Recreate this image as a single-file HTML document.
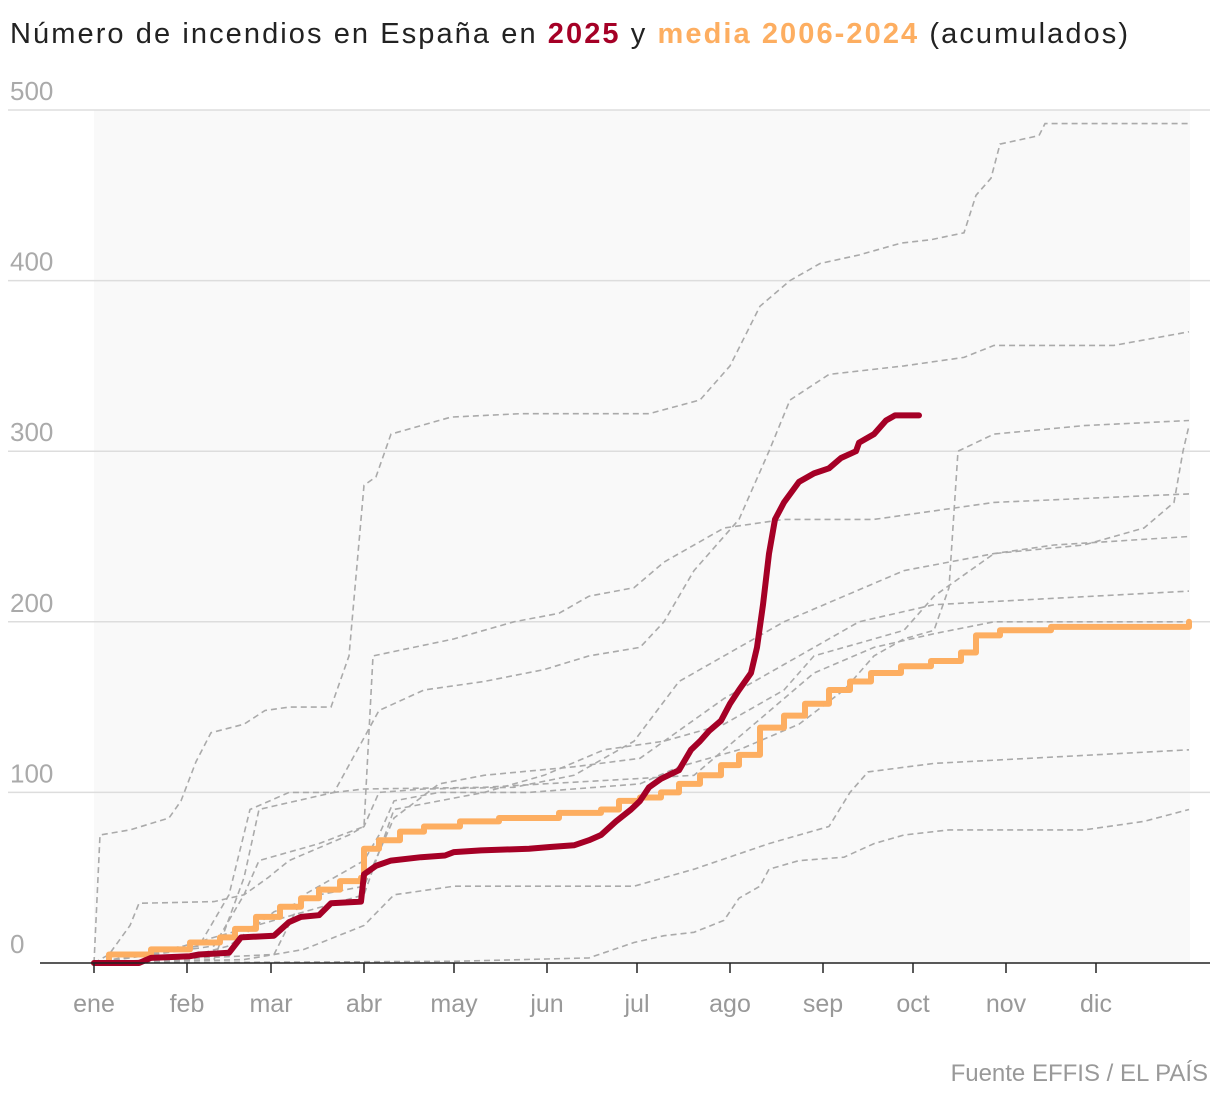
<!DOCTYPE html>
<html><head><meta charset="utf-8"><style>
body{margin:0;background:#fff;width:1220px;height:1102px;overflow:hidden;font-family:"Liberation Sans",sans-serif}
</style></head><body>
<svg id="chart" width="1220" height="1102" xmlns="http://www.w3.org/2000/svg">
<text x="10" y="43" font-size="29" fill="#222" textLength="1118" lengthAdjust="spacing">Número de incendios en España en <tspan font-weight="bold" fill="#a50026">2025</tspan> y <tspan font-weight="bold" fill="#fdae61">media 2006-2024</tspan> (acumulados)</text>
<rect x="94" y="110" width="1096" height="853" fill="#f9f9f9"/>
<g id="grid"></g><g id="gray"></g><g id="main"></g><g id="axis"></g>
<text x="1208" y="1081" font-size="24" fill="#999" text-anchor="end">Fuente EFFIS / EL PAÍS</text>
</svg>
<script>
const yTicks=[0,100,200,300,400,500];
const months=["ene","feb","mar","abr","may","jun","jul","ago","sep","oct","nov","dic"];
const monthStarts=[0,31,59,90,120,151,181,212,243,273,304,334];
const days2025=[0,15,19,32,35,45,49,60,65,69,75,79,89,90,94,99,109,117,120,129,145,152,160,165,169,174,179,182,185,189,195,199,202,205,209,212,215,219,221,223,225,227,230,235,240,245,249,254,255,260,264,267,275];
const vals2025=[0,0,3,4,5,6,15,16,24,27,28,35,36,52,57,60,62,63,65,66,67,68,69,72,75,83,90,95,103,108,113,125,130,136,142,152,160,170,185,210,240,260,270,282,287,290,296,300,305,310,318,321,321];
const daysAvg=[0,5,19,32,42,47,54,62,69,75,82,89,90,95,102,110,122,135,155,169,175,182,189,195,202,209,215,222,230,237,245,252,259,269,279,289,294,302,319,365];
const valsAvg=[0,5,8,12,15,20,27,33,38,43,48,50,67,72,77,80,83,85,88,90,95,97,100,105,110,116,122,138,145,152,160,165,170,174,177,182,192,195,197,200];
const pastYears=[
 [[0,2,12,25,29,34,39,50,57,65,79,85,90,94,99,119,142,185,202,212,222,232,242,255,269,279,290,294,299,302,315,317,365],[0,75,78,85,95,118,135,140,148,150,150,180,280,285,310,320,322,322,330,350,385,400,410,415,422,424,428,450,460,480,485,492,492]],
 [[0,40,50,55,60,80,95,110,130,150,165,182,190,200,215,225,232,245,270,290,300,340,365],[0,2,50,90,92,100,148,160,165,172,180,185,200,230,260,300,330,345,350,355,362,362,370]],
 [[0,60,70,80,90,95,100,115,145,182,195,215,235,250,260,270,280,285,288,300,330,365],[0,5,40,50,60,75,95,100,100,105,115,125,140,160,180,190,195,220,300,310,315,318]],
 [[0,5,12,15,40,50,58,65,85,90,95,110,140,160,180,195,210,230,250,270,300,320,365],[0,5,22,35,36,40,50,60,75,80,100,102,103,110,130,165,180,200,215,230,240,245,250]],
 [[0,30,45,60,75,90,100,115,130,160,182,210,230,255,280,365],[0,3,10,30,40,45,85,105,110,115,120,155,175,200,210,218]],
 [[0,50,70,90,100,120,180,200,225,245,252,258,280,365],[0,2,8,22,40,45,45,55,70,80,100,112,117,125]],
 [[0,120,165,180,190,200,210,215,222,225,235,250,260,270,285,330,350,365],[0,1,3,12,16,18,25,38,45,55,60,62,70,75,78,78,83,90]],
 [[0,30,60,90,100,130,150,170,190,210,230,240,260,270,280,300,330,350,360,363,365],[0,10,25,40,90,100,110,125,130,140,160,180,190,195,215,240,245,255,270,300,315]],
 [[0,40,50,55,75,90,93,120,140,155,165,180,190,210,230,260,280,300,365],[0,10,40,60,70,80,180,190,200,205,215,220,235,255,260,260,265,270,275]],
 [[0,35,45,52,65,80,90,130,180,200,220,240,260,280,300,365],[0,10,40,90,100,100,102,103,108,110,140,170,185,193,200,200]]
];
const NS="http://www.w3.org/2000/svg";
const x=d=>94+d*3.0;
const y=v=>963-v*1.706;
function mk(tag,parent,attrs){const e=document.createElementNS(NS,tag);for(const k in attrs)e.setAttribute(k,attrs[k]);parent.appendChild(e);return e;}
const grid=document.getElementById('grid');
yTicks.forEach(t=>{
 if(t>0){const l=mk('line',grid,{x1:8,x2:1210,y1:y(t),y2:y(t),stroke:'#ddd','stroke-width':1.5});
 
 }
 const tx=mk('text',grid,{x:10,y:y(t)-10,'font-size':26,fill:'#aaa'});tx.textContent=t;
 
 
});
function path(ds,vs){return ds.map((d,i)=>(i?'L':'M')+x(d).toFixed(1)+','+y(vs[i]).toFixed(1)).join('');}
function stepPath(ds,vs){let s='M'+x(ds[0]).toFixed(1)+','+y(vs[0]).toFixed(1);for(let i=1;i<ds.length;i++){s+='L'+x(ds[i]).toFixed(1)+','+y(vs[i-1]).toFixed(1)+'L'+x(ds[i]).toFixed(1)+','+y(vs[i]).toFixed(1);}return s;}
const gray=document.getElementById('gray');
pastYears.forEach((s,i)=>{
 const p=mk('path',gray,{d:path(s[0],s[1]),fill:'none',stroke:'#aaa','stroke-width':1.6,'stroke-dasharray':'6,4'});
 
 
});
const main=document.getElementById('main');
const pa=mk('path',main,{d:stepPath(daysAvg,valsAvg),fill:'none',stroke:'#fdae61','stroke-width':6,'stroke-linejoin':'round','stroke-linecap':'round'});


const pr=mk('path',main,{d:path(days2025,vals2025),fill:'none',stroke:'#a50026','stroke-width':6,'stroke-linejoin':'round','stroke-linecap':'round'});


const axis=document.getElementById('axis');
const base=mk('line',axis,{x1:40,x2:1210,y1:963,y2:963,stroke:'#222','stroke-width':1.5});


months.forEach((m,i)=>{
 const tk=mk('line',axis,{x1:x(monthStarts[i]),x2:x(monthStarts[i]),y1:963,y2:973,stroke:'#222','stroke-width':1.5});
 
 
 const t=mk('text',axis,{x:x(monthStarts[i]),y:1012,'font-size':25,fill:'#999','text-anchor':'middle'});t.textContent=m;
 
 
});
</script>
</body></html>
